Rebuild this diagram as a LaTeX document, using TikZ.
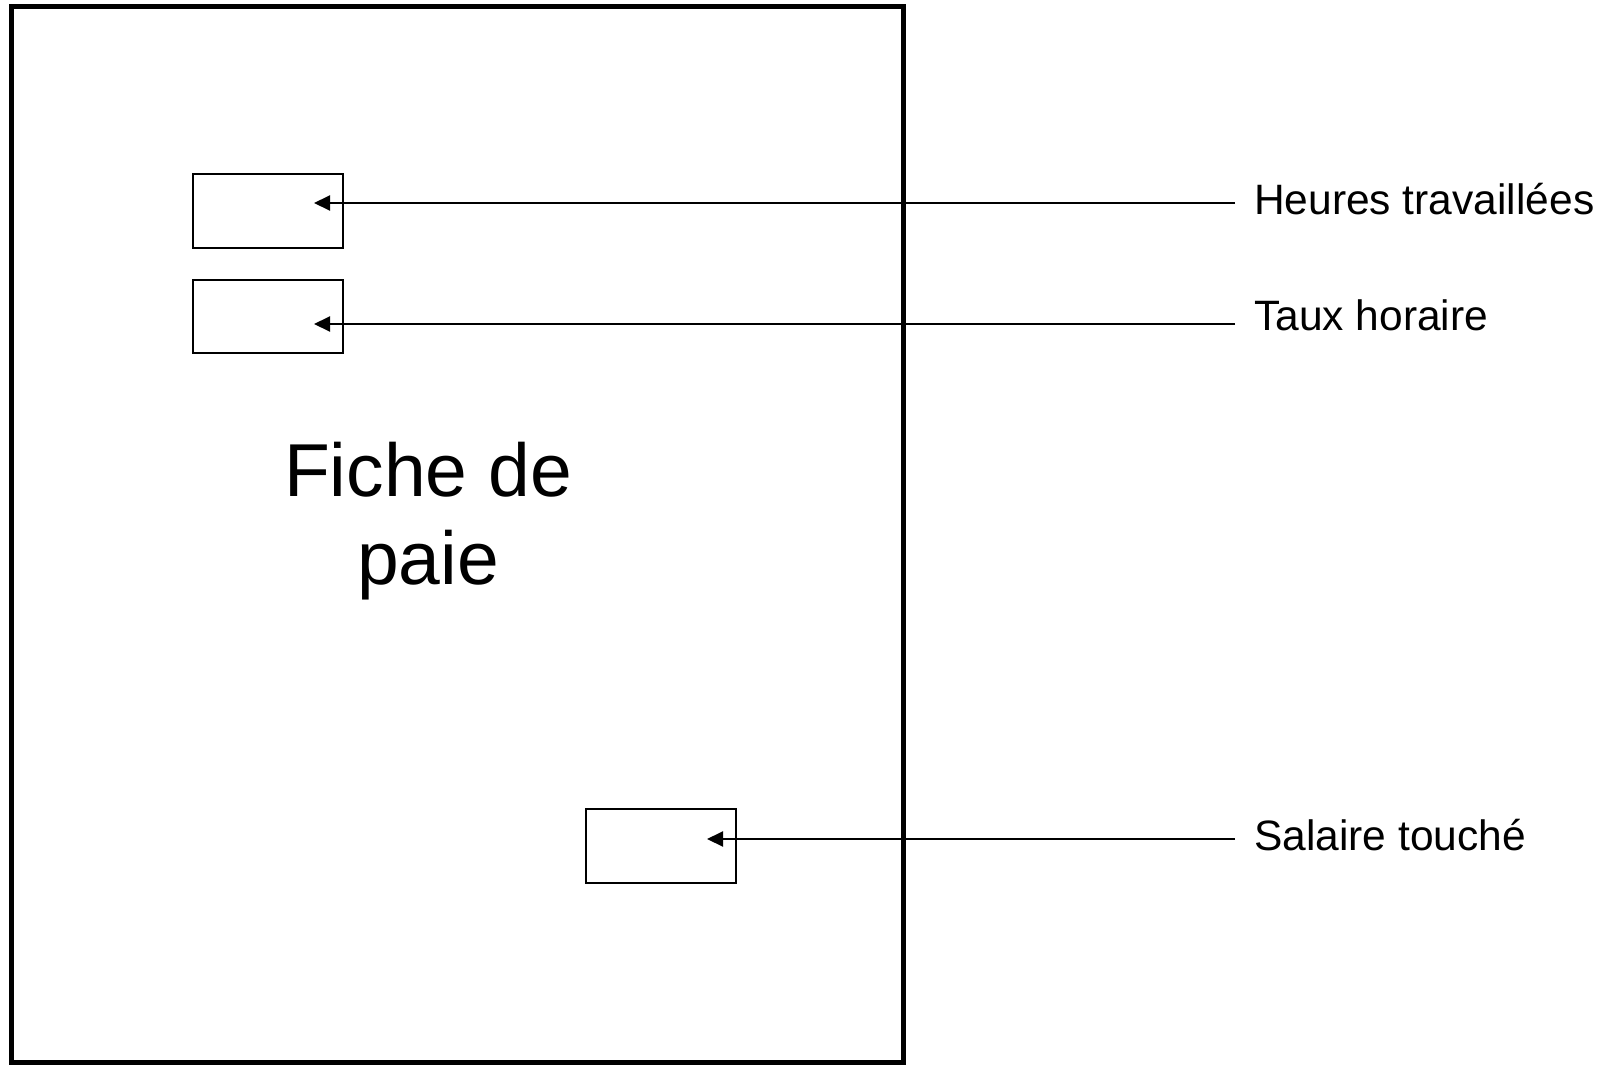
\documentclass[tikz,border=0pt]{standalone}
\usepackage{fontspec}
\setmainfont{Liberation Sans}
\usetikzlibrary{arrows.meta}
\begin{document}
\begin{tikzpicture}[x=1pt,y=-1pt,
  field/.style={draw,line width=2pt,minimum width=150pt,minimum height=73.7pt,inner sep=0pt,anchor=center},
  lbl/.style={anchor=base west,inner sep=0pt,font=\fontsize{42.5}{50}\selectfont},
  feed/.style={line width=2pt,-{Triangle[length=16pt,width=15pt]}}]
\useasboundingbox (0,0) rectangle (1604,1065);
\draw[line width=5pt] (11.5,7) rectangle (903.5,1062);
\node[inner sep=0pt,align=center,font=\fontsize{75}{88}\selectfont] (title) at (428,521) {Fiche de\\paie};
\node[field] (box1) at (268.3,211) {};
\node[field] (box2) at (268.3,316.5) {};
\node[field] (box3) at (661.3,846) {};
\coordinate (tip1) at (314,203);
\coordinate (tip2) at (314,324);
\coordinate (tip3) at (707,839);
\coordinate (src1) at (1235,203);
\coordinate (src2) at (1235,324);
\coordinate (src3) at (1235,839);
\node[lbl] (lab1) at (1254,214) {Heures travaillées};
\node[lbl] (lab2) at (1254,330) {Taux horaire};
\node[lbl] (lab3) at (1254,850) {Salaire touché};
\draw[feed] (src1) -- (tip1);
\draw[feed] (src2) -- (tip2);
\draw[feed] (src3) -- (tip3);
\end{tikzpicture}
\end{document}
